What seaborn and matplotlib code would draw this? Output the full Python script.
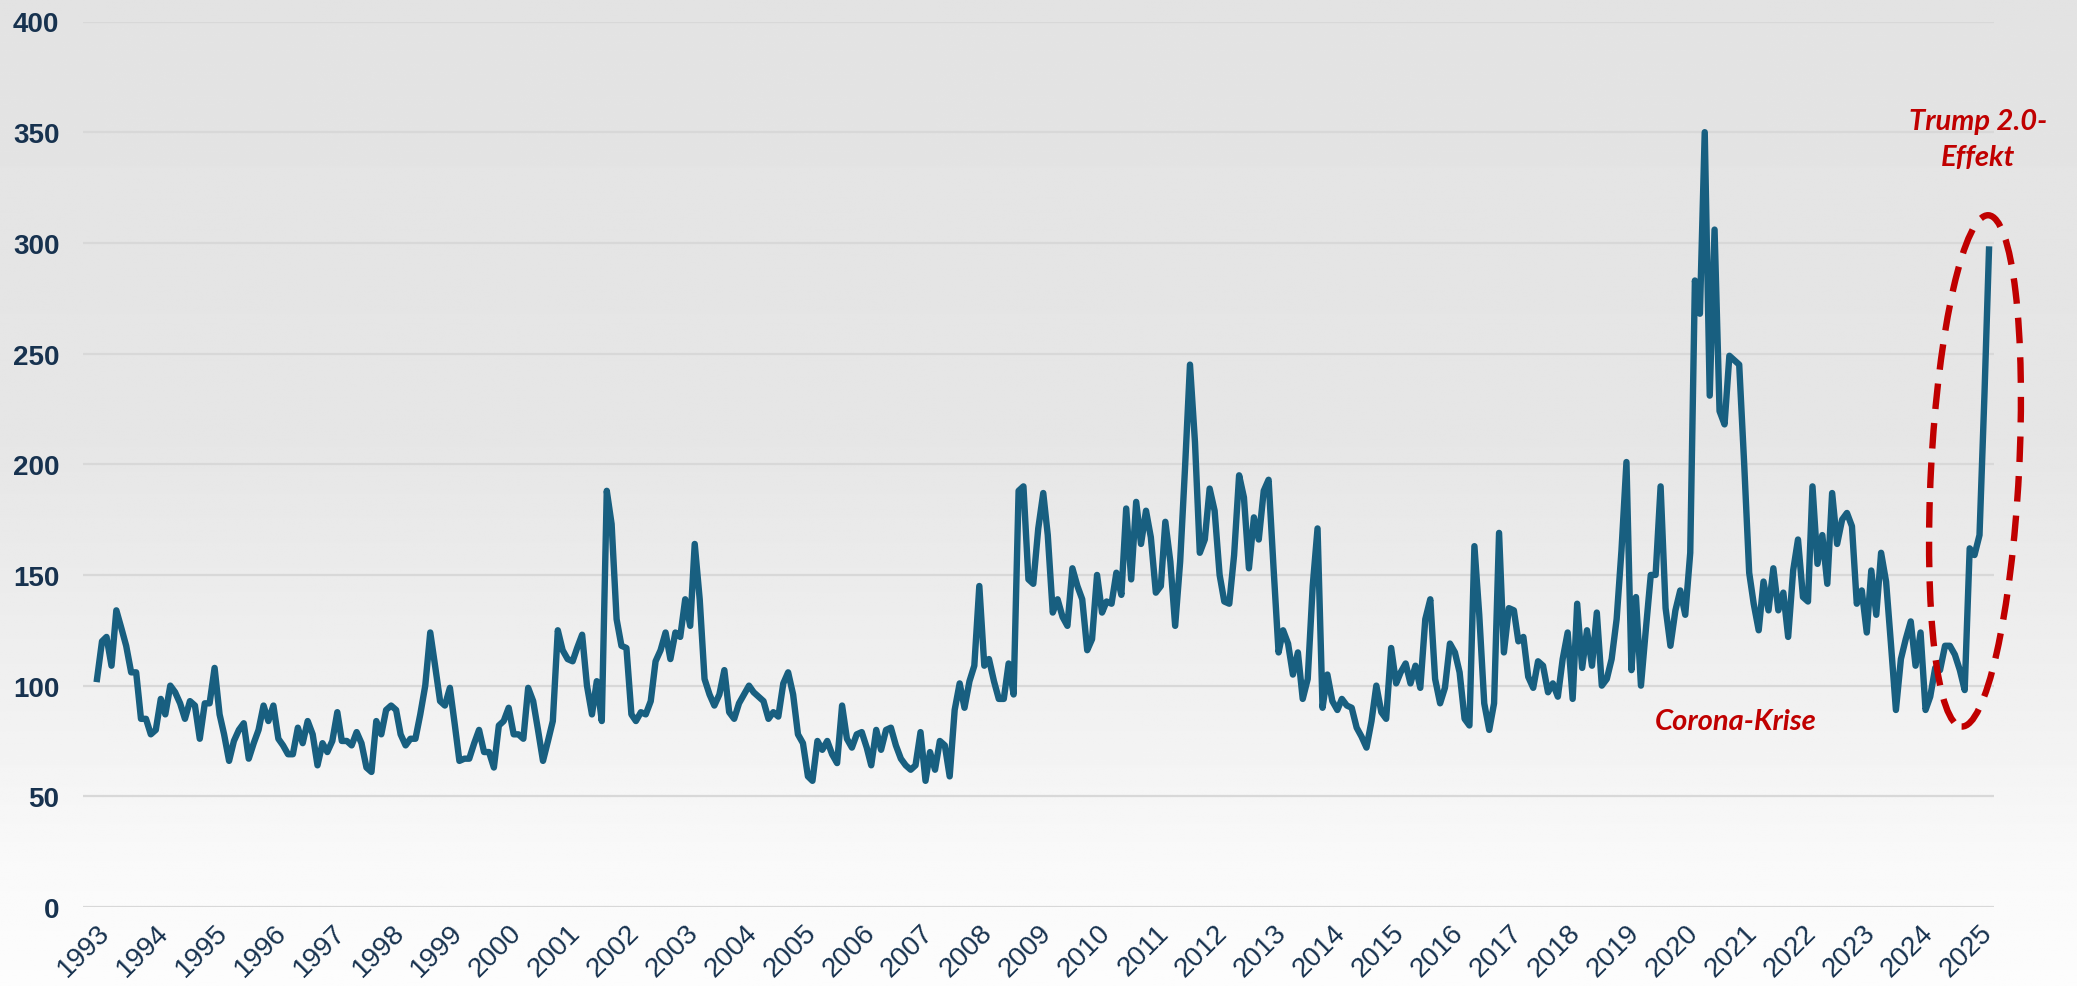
import matplotlib
matplotlib.use("Agg")
import matplotlib.pyplot as plt
import matplotlib.dates as mdates
from matplotlib.patches import Ellipse
from matplotlib.transforms import ScaledTranslation
import numpy as np
import pandas as pd
import seaborn as sns

# monthly index values, Jan 1993 .. Mar 2025 (12 per row)
start_month = "1993-01-01"
index_values = [
    103, 120, 122, 109, 134, 126, 118, 106, 106, 85, 85, 78,
    80, 94, 87, 100, 97, 92, 85, 93, 91, 76, 92, 92,
    108, 87, 78, 66, 75, 80, 83, 67, 74, 80, 91, 84,
    91, 76, 73, 69, 69, 81, 74, 84, 78, 64, 74, 70,
    75, 88, 75, 75, 73, 79, 74, 63, 61, 84, 78, 89,
    91, 89, 78, 73, 76, 76, 87, 100, 124, 109, 93, 91,
    99, 82, 66, 67, 67, 74, 80, 70, 70, 63, 82, 84,
    90, 78, 78, 76, 99, 93, 80, 66, 75, 84, 125, 116,
    112, 111, 117, 123, 100, 87, 102, 84, 188, 173, 130, 118,
    117, 87, 84, 88, 87, 93, 111, 116, 124, 112, 124, 122,
    139, 127, 164, 139, 103, 96, 91, 96, 107, 88, 85, 92,
    96, 100, 97, 95, 93, 85, 88, 86, 101, 106, 96, 78,
    74, 59, 57, 75, 71, 75, 69, 65, 91, 76, 72, 78,
    79, 72, 64, 80, 71, 80, 81, 73, 67, 64, 62, 64,
    79, 57, 70, 62, 75, 73, 59, 89, 101, 90, 102, 109,
    145, 109, 112, 102, 94, 94, 110, 96, 188, 190, 148, 146,
    171, 187, 168, 133, 139, 131, 127, 153, 145, 139, 116, 121,
    150, 133, 138, 137, 151, 141, 180, 148, 183, 164, 179, 167,
    142, 145, 174, 156, 127, 156, 198, 245, 210, 160, 166, 189,
    179, 150, 138, 137, 159, 195, 185, 153, 176, 166, 188, 193,
    153, 115, 125, 119, 105, 115, 94, 103, 145, 171, 90, 105,
    93, 89, 94, 91, 90, 81, 77, 72, 84, 100, 88, 85,
    117, 101, 106, 110, 101, 109, 99, 130, 139, 103, 92, 99,
    119, 115, 106, 85, 82, 163, 132, 92, 80, 92, 169, 115,
    135, 134, 120, 122, 104, 99, 111, 109, 97, 101, 95, 112,
    124, 94, 137, 108, 125, 109, 133, 100, 103, 112, 130, 161,
    201, 107, 140, 100, 125, 150, 150, 190, 135, 118, 134, 143,
    132, 160, 283, 268, 350, 231, 306, 224, 218, 249, 247, 245,
    200, 151, 137, 125, 147, 134, 153, 134, 142, 122, 152, 166,
    140, 138, 190, 155, 168, 146, 187, 164, 175, 178, 172, 137,
    143, 124, 152, 132, 160, 147, 119, 89, 112, 121, 129, 109,
    124, 89, 95, 108, 107, 118, 118, 114, 107, 98, 162, 159,
    168, 232, 297,
]
tick_years = list(range(1993, 2026))
y_ticks = [0, 50, 100, 150, 200, 250, 300, 350, 400]
trump_label = "Trump 2.0-\nEffekt"
corona_label = "Corona-Krise"

line_color = "#185f80"
text_color = "#17324f"
red = "#c00000"

dates = pd.date_range(start_month, periods=len(index_values), freq="MS")
df = pd.DataFrame({"Monat": dates, "Index": index_values})

W, H = 2077, 987
fig = plt.figure(figsize=(W / 100, H / 100), dpi=100)

# vertical gradient background
bg = fig.add_axes([0, 0, 1, 1], zorder=-10)
stops_y = [0.0, 0.45, 0.72, 0.88, 1.0]
stops_v = [0.890, 0.902, 0.945, 0.978, 0.990]
yy = np.linspace(0, 1, 400)
grad = np.interp(yy, stops_y, stops_v)
bg.imshow(np.tile(grad[:, None], (1, 10)), cmap="gray", vmin=0, vmax=1,
          aspect="auto", extent=[0, 1, 1, 0])
bg.set_axis_off()

ax = fig.add_axes([83 / W, 1 - 908 / H, (1994 - 83) / W, (908 - 22.5) / H])
ax.set_facecolor("none")

sns.lineplot(data=df, x="Monat", y="Index", ax=ax, color=line_color,
             linewidth=4.6, zorder=3)

ax.set_ylim(0, 400)
ax.set_xlim(dates[0] - pd.Timedelta(days=87), dates[-1] + pd.Timedelta(days=31))
ax.set_yticks(y_ticks)
ax.set_xticks([pd.Timestamp(f"{y}-01-01") for y in tick_years])
ax.set_xticklabels([str(y) for y in tick_years])
ax.grid(axis="y", color="#d8d8d8", linewidth=1.6, zorder=0)
ax.grid(axis="x", visible=False)
for s in ax.spines.values():
    s.set_visible(False)
ax.set_xlabel("")
ax.set_ylabel("")
ax.tick_params(axis="both", length=0)
ax.tick_params(axis="y", pad=17)
ax.tick_params(axis="x", pad=9)

for lab in ax.get_yticklabels():
    lab.set_fontfamily(["Liberation Sans", "DejaVu Sans"])
    lab.set_fontweight("bold")
    lab.set_fontsize(20)
    lab.set_color(text_color)
for lab in ax.get_xticklabels():
    lab.set_fontfamily(["Liberation Sans", "DejaVu Sans"])
    lab.set_fontsize(20)
    lab.set_color(text_color)
    lab.set_rotation(45)
    lab.set_ha("right")
    lab.set_va("top")
    lab.set_rotation_mode("anchor")

ann_font = dict(family=["Lato", "DejaVu Sans"], fontweight="bold",
                fontstyle="italic", fontsize=21, color=red)
ax.text(dates[383] + pd.Timedelta(days=20), 347, trump_label, ha="center",
        va="center", linespacing=1.5, **ann_font)
ax.text(dates[334] + pd.Timedelta(days=10), 84, corona_label, ha="center",
        va="center", **ann_font)

# dashed ellipse round the last months
cx = mdates.date2num(dates[383] + pd.Timedelta(days=3))
ell = Ellipse((0, 0), width=0.88, height=5.12, angle=-3, fill=False,
              edgecolor=red, linewidth=4.6, linestyle=(0, (4, 2.2)),
              transform=fig.dpi_scale_trans + ScaledTranslation(cx, 197, ax.transData),
              zorder=4, clip_on=False)
ax.add_patch(ell)

fig.savefig("out.png", dpi=100)
